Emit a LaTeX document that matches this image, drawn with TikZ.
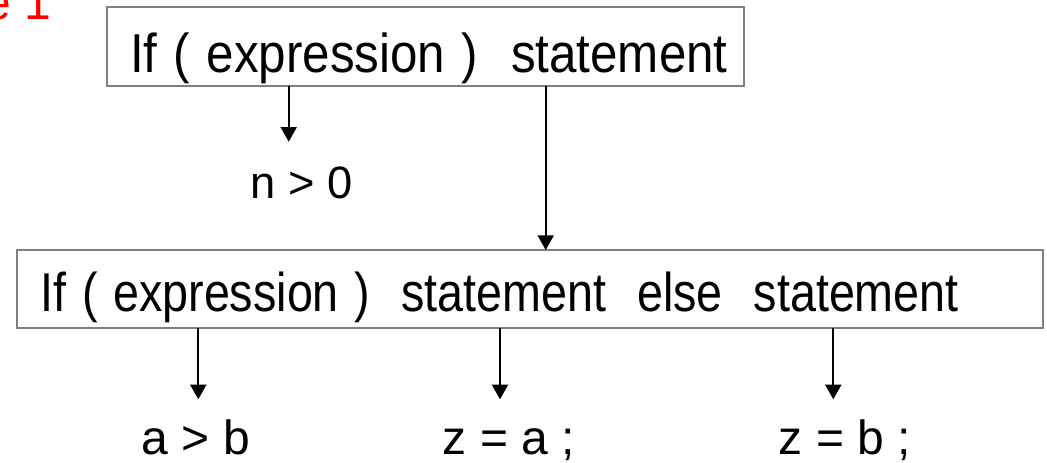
\documentclass[tikz,border=0pt]{standalone}
\usepackage{fontspec}
\setmainfont{Liberation Sans}
\usepackage{graphicx}
\usetikzlibrary{arrows.meta,positioning,calc}
\definecolor{boxgray}{RGB}{128,128,128}
\newcommand{\tallbox}[2]{\scalebox{1}[#1]{#2}}

\begin{document}
\begin{tikzpicture}[x=0.75pt,y=-0.75pt,
  box/.style={draw=boxgray,line width=1.5pt,inner sep=0pt,outer sep=0pt,anchor=north west,align=left},
  arr/.style={line width=1.5pt,-{Triangle[width=12pt,length=11pt]}},
  lbl/.style={inner sep=0pt,anchor=base,font=\fontsize{36}{40}\selectfont}]
  \useasboundingbox (0,0) rectangle (1047,463);
  \clip (0,0) rectangle (1047,463);
  \node[lbl,anchor=base west,text=red] (title) at (-16,20) {e 1}; % 左上の見出し（切れている）
  \node[box,font=\fontsize{37}{40}\selectfont,inner xsep=17.5pt,text width=442.8pt,text height=49pt,text depth=10pt]
    (ifst) at (106.7,7.3) {\tallbox{1.11}{If ( expression )~ statement}}; % 上の if 文
  \node[box,font=\fontsize{35}{40}\selectfont,inner xsep=18pt,text width=733.7pt,text height=46.3pt,text depth=12.2pt]
    (ifelse) at (16.7,250) {\tallbox{1.17}{If ( expression )~ statement~ else~ statement}}; % 下の if-else 文
  \node[lbl,font=\fontsize{34}{38}\selectfont] (cond) at (301.5,198.3) {n > 0}; % 条件式
  \node[lbl] (condb) at (196,455) {a > b}; % 条件式
  \node[lbl] (thenst) at (509,455) {z = a ;}; % then 側の文
  \node[lbl] (elsest) at (845,455) {z = b ;}; % else 側の文
  \coordinate (t1) at (288.7,141.7); % 矢印の先
  \coordinate (t2) at (545.7,200);
  \coordinate (b1) at (198.3,399.3);
  \coordinate (b2) at (500,399.3);
  \coordinate (b3) at (833.3,399.3);
  \draw[arr] (ifst.south -| t1) -- (t1); % expression から n > 0 へ
  \draw[arr] (ifst.south -| t2) -- (ifelse.north -| t2); % statement から下の文へ
  \draw[arr] (ifelse.south -| b1) -- (b1); % expression から a > b へ
  \draw[arr] (ifelse.south -| b2) -- (b2); % statement から z = a へ
  \draw[arr] (ifelse.south -| b3) -- (b3); % statement から z = b へ
\end{tikzpicture}
\end{document}
